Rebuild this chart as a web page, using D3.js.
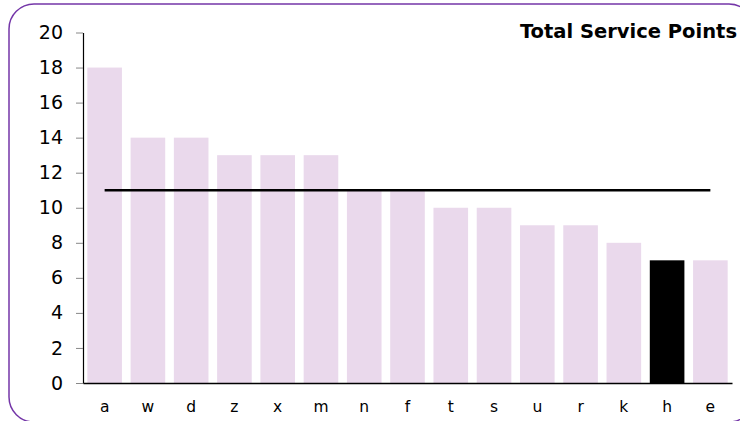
<!DOCTYPE html>
<html>
<head>
<meta charset="utf-8">
<script src="https://cdn.jsdelivr.net/npm/d3@7"></script>
<style>
	body { margin: 0; background: #fff; }
	svg { display: block; }
</style>
</head>
<body>
<div id="grafic"></div>
<script>
// dades llegides del gràfic
var categories = ['a', 'w', 'd', 'z', 'x', 'm', 'n', 'f', 't', 's', 'u', 'r', 'k', 'h', 'e'];
var valors = [18, 14, 14, 13, 13, 13, 11, 11, 10, 10, 9, 9, 8, 7, 7];
var destacat = 'h';
var mitjana = 11;
var marquesY = [0, 2, 4, 6, 8, 10, 12, 14, 16, 18, 20];
var títol = 'Total Service Points';

var Amplada = 740, Alçada = 421;
var marge = {dalt: 32.5, dreta: 8, baix: 38, esquerra: 83};
var lletra = 'DejaVu Sans, Verdana, sans-serif';

var svg = d3.select('#grafic')
	.append('svg')
		.attr('width', Amplada)
		.attr('height', Alçada);

// marc arrodonit
svg.append('rect')
	.attr('x', 9).attr('y', 4)
	.attr('width', 745).attr('height', 418)
	.attr('rx', 25).attr('ry', 25)
	.attr('fill', 'none')
	.attr('stroke', '#7436a8')
	.attr('stroke-width', 1.5);

var x = d3.scaleBand()
	.domain(categories)
	.range([marge.esquerra, Amplada - marge.dreta])
	.paddingInner(0.2)
	.paddingOuter(0.1);

var y = d3.scaleLinear()
	.domain([0, 20])
	.range([Alçada - marge.baix, marge.dalt]);

var dades = categories.map((c, i) => ({cat: c, val: valors[i]}));

// barres
svg.append('g')
	.selectAll('rect')
	.data(dades)
	.enter()
	.append('rect')
		.attr('x', d => x(d.cat))
		.attr('y', d => y(d.val))
		.attr('width', x.bandwidth())
		.attr('height', d => y(0) - y(d.val))
		.attr('fill', d => d.cat === destacat ? '#000' : '#ead9ec');

// línia de referència
svg.append('line')
	.attr('x1', x(categories[0]) + x.bandwidth() / 2)
	.attr('x2', x(categories[categories.length - 1]) + x.bandwidth() / 2)
	.attr('y1', y(mitjana))
	.attr('y2', y(mitjana))
	.attr('stroke', '#000')
	.attr('stroke-width', 2.5);

// eix Y
var eixY = svg.append('g')
	.attr('transform', `translate(${marge.esquerra},0)`)
	.call(d3.axisLeft(y).tickValues(marquesY).tickSize(7).tickPadding(13).tickSizeOuter(0));
eixY.select('.domain').attr('stroke', '#000').attr('stroke-width', 1.2);
eixY.selectAll('.tick line').attr('stroke', '#888');
eixY.selectAll('.tick text')
	.attr('font-family', lletra)
	.attr('font-size', 19)
	.attr('fill', '#000');

// eix X
var eixX = svg.append('g')
	.attr('transform', `translate(0,${y(0)})`)
	.call(d3.axisBottom(x).tickSize(0).tickPadding(18).tickSizeOuter(0));
eixX.select('.domain').attr('stroke', '#000').attr('stroke-width', 1.5);
eixX.selectAll('.tick text')
	.attr('font-family', lletra)
	.attr('font-size', 15.5)
	.attr('fill', '#000');

// títol
svg.append('text')
	.attr('x', 737)
	.attr('y', 37.5)
	.attr('text-anchor', 'end')
	.attr('font-family', lletra)
	.attr('font-weight', 'bold')
	.attr('font-size', 19.5)
	.text(títol);
</script>
</body>
</html>
